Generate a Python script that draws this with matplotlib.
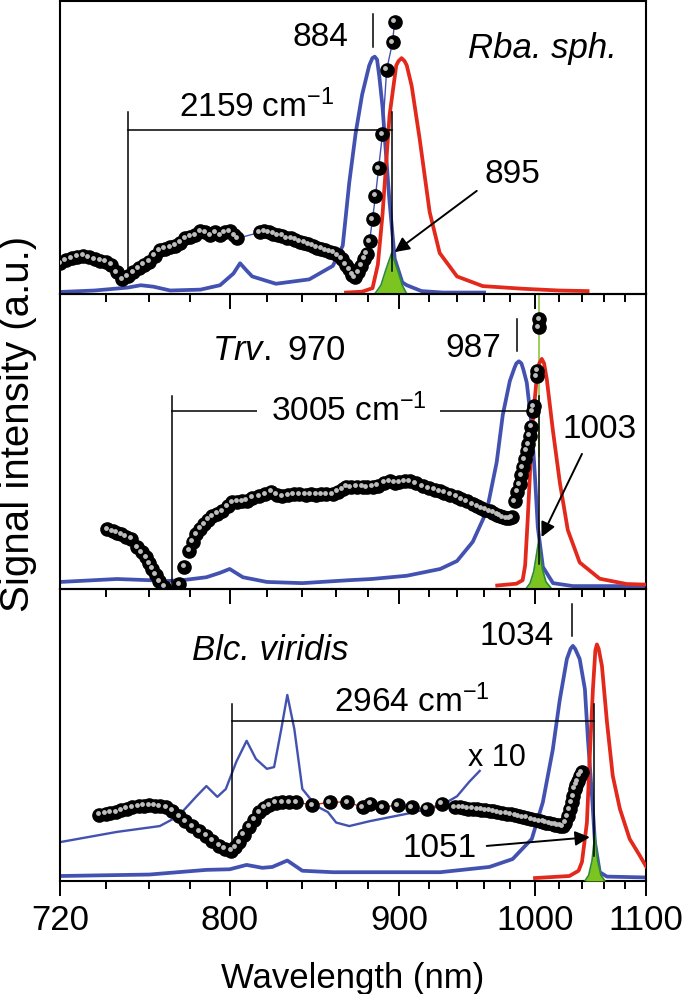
import numpy as np
import matplotlib.pyplot as plt
from matplotlib.ticker import FixedLocator, NullFormatter
from matplotlib.transforms import offset_copy

plt.rcParams['font.family'] = ['Liberation Sans', 'DejaVu Sans']
plt.rcParams['mathtext.fontset'] = 'custom'
plt.rcParams['mathtext.rm'] = 'Liberation Sans'
plt.rcParams['mathtext.it'] = 'Liberation Sans:italic'

# ---- Rba. sph. (top panel) ----
top_abs_nm = [720, 735, 750, 756, 762, 770, 785, 795, 802, 805.5, 809, 812, 825, 844, 858,
              864, 868, 872, 876, 880.5, 882.5, 884, 885.5, 887, 889, 893.5, 897, 902, 905,
              915, 930, 960]
top_abs = [0.007, 0.012, 0.022, 0.03, 0.025, 0.012, 0.015, 0.03, 0.07, 0.105, 0.08, 0.06,
           0.035, 0.05, 0.096, 0.165, 0.38, 0.55, 0.68, 0.78, 0.805, 0.81, 0.8, 0.74, 0.64,
           0.32, 0.12, 0.04, 0.03, 0.01, 0.005, 0.005]
top_fl_nm = [866, 876, 882.6, 886, 889, 893.6, 898, 899.5, 901.5, 903.5, 905, 908.3, 913.7,
             920.6, 927.6, 940, 959, 990, 1020, 1045]
top_fl = [0.005, 0.008, 0.02, 0.1, 0.27, 0.61, 0.78, 0.795, 0.805, 0.795, 0.78, 0.71, 0.53,
          0.28, 0.14, 0.06, 0.027, 0.018, 0.012, 0.01]
top_zpl_nm = [884, 888, 891, 895, 899, 902, 905]
top_zpl = [0, 0.03, 0.08, 0.14, 0.08, 0.03, 0]
top_dot_nm = [720, 722.5, 725, 727.5, 730, 732.5, 735, 737.5, 740, 742.5, 745, 747.5, 750,
              752.5, 755, 757.5, 760, 762.5, 765, 767.5, 770, 772.5, 775, 777.5, 780, 782.5,
              785, 787.5, 790, 792.5, 795, 797.5, 800, 802.5, 804,
              816, 818.5, 821, 823.5, 826, 828.5, 831, 833.5, 836, 838.5, 841, 843.5, 846,
              848.5, 851, 853.5, 856, 858.5, 861, 863.5, 866, 868, 870, 871.5, 873.5, 875.6,
              877.5, 878.8, 880.7, 882.6, 884.5, 886.5, 889, 891.7, 895.6, 896.9]
top_dot = [0.105, 0.115, 0.122, 0.128, 0.13, 0.125, 0.118, 0.113, 0.11, 0.1, 0.075, 0.05,
           0.06, 0.075, 0.088, 0.1, 0.11, 0.13, 0.15, 0.155, 0.16, 0.165, 0.175, 0.19, 0.195,
           0.2, 0.215, 0.21, 0.2, 0.21, 0.2, 0.21, 0.215, 0.2, 0.19,
           0.21, 0.215, 0.21, 0.205, 0.2, 0.198, 0.19, 0.19, 0.185, 0.178, 0.175, 0.17, 0.165,
           0.158, 0.155, 0.15, 0.145, 0.14, 0.133, 0.12, 0.1, 0.085, 0.065, 0.058, 0.075,
           0.097, 0.12, 0.137, 0.18, 0.256, 0.335, 0.43, 0.546, 0.765, 0.86, 0.93]

# ---- Trv. 970 (middle panel) ----
mid_abs_nm = [720, 745, 760, 768, 776, 788, 795, 800, 807, 820, 840, 868, 882, 905, 928, 940,
              951.5, 962, 969.6, 974.3, 979.8, 983.5, 985, 987, 989, 990.5, 993.3, 997.4,
              1000, 1002.3, 1006.5, 1015, 1032, 1100]
mid_abs = [0.024, 0.034, 0.03, 0.027, 0.03, 0.04, 0.055, 0.068, 0.04, 0.024, 0.02, 0.03, 0.034,
           0.045, 0.068, 0.095, 0.16, 0.264, 0.43, 0.59, 0.705, 0.75, 0.765, 0.772, 0.765,
           0.745, 0.7, 0.55, 0.38, 0.21, 0.075, 0.02, 0.01, 0.01]
mid_fl_nm = [970, 985, 990, 992, 994, 996, 998, 1001.5, 1003.5, 1005.6, 1007.5, 1009.8, 1014.8,
             1020.8, 1027.6, 1038, 1056, 1081, 1100]
mid_fl = [0.012, 0.018, 0.03, 0.08, 0.23, 0.4, 0.56, 0.72, 0.765, 0.78, 0.765, 0.71, 0.54,
          0.36, 0.2, 0.09, 0.035, 0.017, 0.015]
mid_zpl_nm = [992.5, 996, 999, 1003, 1006, 1009, 1014]
mid_zpl = [0, 0.02, 0.06, 0.163, 0.07, 0.025, 0]
mid_dot_nm = [740.6, 743, 745, 747, 749, 751.5, 754.3, 756.5, 758.5, 760, 761.4, 763, 764.7,
              767.1, 769, 772, 774.4, 776.9, 779.4, 781, 782.9, 785, 786.9, 789, 791, 793.5,
              796.2, 799, 801.4, 804, 806.7, 809, 812, 815.9, 819, 822.5, 825.5, 828.6, 832,
              835, 838.3, 842, 845, 848.2, 851, 854, 857.8, 861, 864, 866.3, 869, 872.5,
              876.3, 879, 882.6, 886, 890, 893.6, 897, 900, 903.5, 906.9, 911, 915.8, 920, 924,
              927.6, 931, 935, 939.8, 943, 947, 951.5, 955, 958, 961, 964.3, 967, 970, 972,
              974.3, 977, 979.5, 981.3, 983.7, 985.5, 987.7, 989, 990.1, 991.5, 993.3, 994.5,
              995.8, 997, 998.2, 998.8, 1001.5, 1001.8, 1003.2, 1003.4]
mid_dot = [0.203, 0.196, 0.19, 0.186, 0.178, 0.17, 0.142, 0.125, 0.108, 0.088, 0.068, 0.048,
           0.027, 0.007, -0.01, -0.01, 0.017, 0.075, 0.129, 0.16, 0.186, 0.205, 0.22, 0.235,
           0.247, 0.255, 0.264, 0.28, 0.295, 0.296, 0.298, 0.3, 0.31, 0.315, 0.322, 0.329,
           0.32, 0.315, 0.318, 0.322, 0.322, 0.32, 0.322, 0.32, 0.322, 0.322, 0.322, 0.33,
           0.338, 0.346, 0.345, 0.346, 0.346, 0.345, 0.346, 0.35, 0.36, 0.366, 0.36, 0.362,
           0.366, 0.366, 0.358, 0.349, 0.342, 0.336, 0.332, 0.326, 0.32, 0.312, 0.305, 0.297,
           0.288, 0.28, 0.273, 0.268, 0.264, 0.258, 0.252, 0.248, 0.244, 0.24, 0.24, 0.244,
           0.298, 0.33, 0.356, 0.385, 0.413, 0.44, 0.468, 0.49, 0.519, 0.55, 0.603, 0.62,
           0.722, 0.74, 0.888, 0.915]

# ---- Blc. viridis (bottom panel) ----
bot_abs_nm = [720, 760, 788, 800, 809, 817.5, 823, 831.4, 840, 858, 881, 928, 964, 982, 997.4,
              1006.5, 1014.8, 1020.7, 1026.8, 1030, 1032, 1034, 1038, 1042.6, 1045.3, 1049,
              1051.6, 1056, 1062.6, 1100]
bot_abs = [0.017, 0.022, 0.038, 0.04, 0.055, 0.045, 0.048, 0.07, 0.035, 0.03, 0.03, 0.03,
           0.048, 0.075, 0.144, 0.27, 0.45, 0.62, 0.76, 0.795, 0.805, 0.795, 0.76, 0.657,
           0.486, 0.29, 0.133, 0.03, 0.015, 0.012]
bot_x10_nm = [720, 745, 765, 774, 783, 788, 793.6, 798, 803.5, 809, 814, 820, 824, 828,
              831.4, 835.4, 840, 848, 855, 860, 868, 881, 905, 928, 940, 949, 956.7]
bot_x10 = [0.133, 0.168, 0.188, 0.222, 0.29, 0.325, 0.288, 0.315, 0.408, 0.48, 0.418, 0.384,
           0.39, 0.52, 0.637, 0.52, 0.315, 0.257, 0.236, 0.2, 0.188, 0.205, 0.23, 0.257, 0.29,
           0.34, 0.377]
bot_fl_nm = [1000, 1029, 1037, 1040, 1044.4, 1047, 1049.8, 1052, 1053.4, 1055, 1058, 1062.6,
             1068, 1074.7, 1084, 1094, 1100]
bot_fl = [0.01, 0.017, 0.035, 0.065, 0.2, 0.43, 0.657, 0.79, 0.81, 0.795, 0.736, 0.545, 0.36,
          0.247, 0.144, 0.086, 0.05]
bot_zpl_nm = [1042.6, 1046, 1049, 1051.5, 1054, 1057, 1060.8]
bot_zpl = [0, 0.02, 0.07, 0.16, 0.07, 0.02, 0]
bot_dot_nm = [737, 740, 742, 744.6, 747, 749.5, 752, 755, 757.5, 759.9, 762.5, 765, 768.1, 771,
              774.4, 777.5, 780.9, 784.5, 787.9, 791, 794.6, 797.5, 800.9, 803, 805.1, 807.5,
              810.4, 813, 815.9, 818.5, 821.4, 825, 828.6, 832.5, 836.6, 845.9, 856, 866.9,
              876.3, 881, 889, 898.9, 908.3, 918.5, 929, 938.3, 942, 945, 948, 951.5, 955,
              958, 961, 964.3, 967, 970, 973.5, 977.4, 980.5, 984, 987, 990.1, 993.5, 997,
              1000.5, 1004, 1007, 1009, 1012, 1014.8, 1017, 1019, 1021, 1023.3, 1025.5,
              1027.7, 1029.5, 1031.1, 1032.5, 1033.8, 1035, 1036.4, 1038, 1040]
bot_dot = [0.226, 0.23, 0.233, 0.236, 0.242, 0.248, 0.253, 0.256, 0.258, 0.26, 0.258, 0.256,
           0.253, 0.24, 0.222, 0.205, 0.188, 0.17, 0.154, 0.137, 0.12, 0.11, 0.103, 0.115,
           0.133, 0.158, 0.185, 0.21, 0.236, 0.25, 0.26, 0.267, 0.27, 0.27, 0.27, 0.26, 0.27,
           0.27, 0.253, 0.265, 0.253, 0.26, 0.253, 0.247, 0.264, 0.253, 0.252, 0.25, 0.248,
           0.247, 0.245, 0.244, 0.242, 0.24, 0.238, 0.235, 0.232, 0.23, 0.228, 0.225, 0.222,
           0.219, 0.216, 0.212, 0.208, 0.205, 0.202, 0.2, 0.198, 0.195, 0.193, 0.19, 0.189,
           0.188, 0.2, 0.222, 0.245, 0.27, 0.29, 0.315, 0.33, 0.342, 0.36, 0.373]

BLUE = '#4352b0'
RED = '#e3281c'
GREEN = '#7cc41f'


def to_wn(x):
    x = np.asarray(x, dtype=float)
    with np.errstate(divide='ignore', invalid='ignore'):
        return -1e7 / x


def shift(nm, dwn):
    # position shifted to the blue by dwn cm-1
    return 1e7 / (1e7 / nm + dwn)


fig = plt.figure(figsize=(6.85, 9.95), dpi=100)
boxes = [[0.0876, 0.7035, 0.8555, 0.2945],
         [0.0876, 0.4070, 0.8555, 0.2965],
         [0.0876, 0.1136, 0.8555, 0.2935]]
axes = [fig.add_axes(b) for b in boxes]

major = [720, 800, 900, 1000, 1100]
minor = [740, 760, 780, 820, 840, 860, 880, 920, 940, 960, 980, 1020, 1040, 1060, 1080]
for i, ax in enumerate(axes):
    ax.set_xscale('function', functions=(to_wn, to_wn))
    ax.set_xlim(720, 1100)
    ax.set_ylim(0, 1)
    ax.set_yticks([])
    ax.patch.set_visible(False)
    ax.xaxis.set_major_locator(FixedLocator(major))
    ax.xaxis.set_minor_locator(FixedLocator(minor))
    ax.xaxis.set_minor_formatter(NullFormatter())
    ax.tick_params(axis='x', which='major', direction='out', length=11, width=1.4,
                   labelsize=25, pad=5)
    ax.tick_params(axis='x', which='minor', direction='out', length=5.5, width=1.4)
    for s in ax.spines.values():
        s.set_linewidth(1.5)
    if i < 2:
        ax.tick_params(axis='x', which='both', labelbottom=False)
axes[2].set_xticklabels([str(v) for v in major])
axes[2].set_xlabel('Wavelength (nm)', fontsize=25, labelpad=18)
fig.text(0.026, 0.574, 'Signal intensity (a.u.)', rotation=90, fontsize=29,
         ha='center', va='center')


def dots(ax, x, y, link=None):
    if link:
        ax.plot(x, y, color=link, lw=1, zorder=5)
    ax.plot(x, y, 'o', ms=9.5, mfc='black', mec='black', ls='none', zorder=6)
    hl = offset_copy(ax.transData, fig=fig, x=-1.5, y=1.5, units='dots')
    ax.plot(x, y, 'o', ms=3.5, mfc='#bdbdbd', mec='none', ls='none', zorder=7, transform=hl)


def zpl(ax, x, y):
    ax.fill_between(x, 0, y, color=GREEN, lw=0, zorder=4)
    ax.plot(x, y, color='#2b8a3a', lw=1.2, zorder=4)


def bracket(ax, lo, hi, y, top, bl, br):
    ax.plot([lo, lo], [bl, top], color='black', lw=1.1, zorder=5)
    ax.plot([hi, hi], [br, top], color='black', lw=1.1, zorder=5)
    ax.plot([lo, hi], [y, y], color='black', lw=1.1, zorder=5)


arrow = dict(arrowstyle='-|>', color='black', lw=1.4, mutation_scale=22,
             shrinkA=0, shrinkB=0)

# top panel
ax = axes[0]
ax.plot(top_abs_nm, top_abs, color=BLUE, lw=2.7, zorder=2)
ax.plot(top_fl_nm, top_fl, color=RED, lw=2.7, zorder=3)
zpl(ax, top_zpl_nm, top_zpl)
bracket(ax, shift(895, 2159), 895, 0.56, 0.62, 0.06, 0.078)
dots(ax, top_dot_nm, top_dot, link=BLUE)
ax.plot([883, 883], [0.843, 0.956], color='black', lw=1.1)
ax.text(850.3, 0.85, '884', fontsize=24, ha='center', va='baseline')
ax.text(1006.5, 0.809, 'Rba. sph.', fontsize=25, style='italic', ha='center', va='baseline')
ax.text(774.5, 0.607, r'2159 cm$^{\mathregular{-1}}$', fontsize=24, ha='left', va='baseline')
ax.text(981.7, 0.382, '895', fontsize=24, ha='center', va='baseline')
ax.annotate('', xy=(896.9, 0.143), xytext=(954.5, 0.352), arrowprops=arrow)

# middle panel
ax = axes[1]
ax.plot(mid_abs_nm, mid_abs, color=BLUE, lw=2.7, zorder=2)
ax.plot(mid_fl_nm, mid_fl, color=RED, lw=2.7, zorder=3)
zpl(ax, mid_zpl_nm, mid_zpl)
ax.plot([1003.3, 1003.3], [0.45, 1.0], color='#8cc63f', lw=1.2, zorder=1)
bracket(ax, shift(1003, 3005), 1003, 0.603, 0.654, 0.0, 0.085)
dots(ax, mid_dot_nm, mid_dot)
ax.plot([985.3, 985.3], [0.807, 0.915], color='black', lw=1.1)
ax.text(826.9, 0.78, r'$\mathit{Trv.}$ 970', fontsize=25, ha='center', va='baseline')
ax.text(951.8, 0.79, '987', fontsize=24, ha='center', va='baseline')
ax.text(867.5, 0.573, r'3005 cm$^{\mathregular{-1}}$', fontsize=24, ha='center', va='baseline',
        bbox=dict(boxstyle='square,pad=0.4', fc='white', ec='none'), zorder=5.5)
ax.text(1055.7, 0.515, '1003', fontsize=24, ha='center', va='baseline')
ax.annotate('', xy=(1005.4, 0.176), xytext=(1040, 0.458), arrowprops=arrow)

# bottom panel
ax = axes[2]
ax.plot(bot_abs_nm, bot_abs, color=BLUE, lw=2.7, zorder=2)
ax.plot(bot_x10_nm, bot_x10, color=BLUE, lw=1.7, zorder=2)
ax.plot(bot_fl_nm, bot_fl, color=RED, lw=2.7, zorder=3)
zpl(ax, bot_zpl_nm, bot_zpl)
bracket(ax, shift(1051, 2964), 1051, 0.548, 0.606, 0.11, 0.086)
dots(ax, bot_dot_nm, bot_dot, link=RED)
ax.plot([1031, 1031], [0.839, 0.949], color='black', lw=1.1)
ax.text(821.9, 0.76, 'Blc. viridis', fontsize=25, style='italic', ha='center', va='baseline')
ax.text(908.5, 0.58, r'2964 cm$^{\mathregular{-1}}$', fontsize=24, ha='center', va='baseline')
ax.text(984.9, 0.812, '1034', fontsize=24, ha='center', va='baseline')
ax.text(970.0, 0.397, 'x 10', fontsize=22, ha='center', va='baseline')
ax.text(927.6, 0.086, '1051', fontsize=24, ha='center', va='baseline')
ax.annotate('', xy=(1047, 0.15), xytext=(962, 0.12), arrowprops=arrow)

fig.savefig('out.png', dpi=100)
